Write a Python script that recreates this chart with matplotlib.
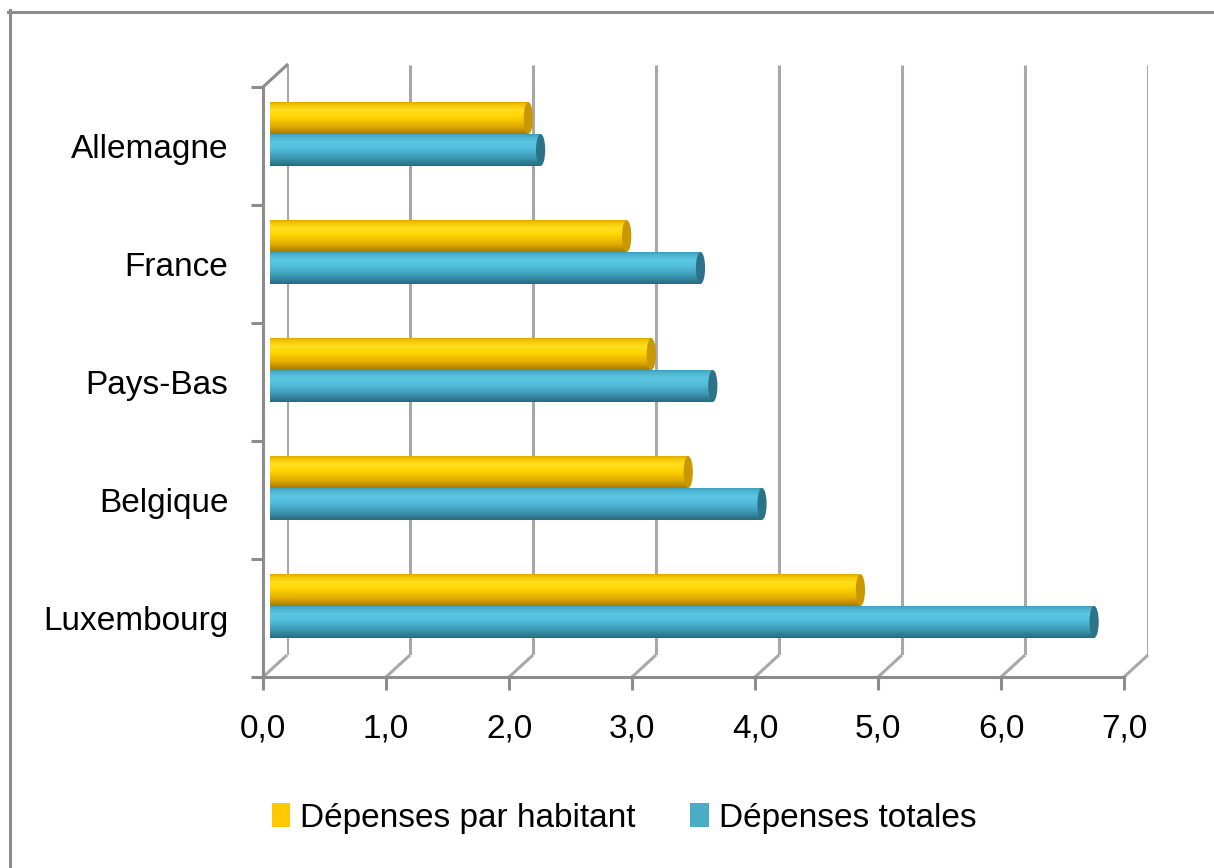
import matplotlib
matplotlib.use('Agg')
import matplotlib.pyplot as plt
import numpy as np
from matplotlib.colors import LinearSegmentedColormap
from matplotlib.patches import Ellipse, Patch
from matplotlib.lines import Line2D

plt.rcParams.update({
    'font.family': ['Liberation Sans', 'DejaVu Sans'],
    'font.size': 24,
})

countries = ['Luxembourg', 'Belgique', 'Pays-Bas', 'France', 'Allemagne']
par_habitant = [4.8, 3.4, 3.1, 2.9, 2.1]
totales = [6.7, 4.0, 3.6, 3.5, 2.2]
x_ticks = [0, 1, 2, 3, 4, 5, 6, 7]
series_names = ['Dépenses par habitant', 'Dépenses totales']

W, H = 1214, 868
GRID = '#a8a8a8'
AXIS = '#8c8c8c'


def frac(left, top, right, bottom):
    return [left / W, 1 - bottom / H, (right - left) / W, (bottom - top) / H]


fig = plt.figure(figsize=(W / 100, H / 100), dpi=100)
fig.patch.set_facecolor('white')

# outer frame (only top/left edges fall inside the image)
fig.add_artist(Line2D([8 / W, 1], [1 - 11.5 / H, 1 - 11.5 / H], color=AXIS, lw=2.2))
fig.add_artist(Line2D([9.5 / W, 9.5 / W], [0, 1 - 10 / H], color=AXIS, lw=2.2))

xlim = (0, 7)
ylim = (-0.5, len(countries) - 0.5)

# back wall with the vertical gridlines
ax_back = fig.add_axes(frac(287, 65, 1148, 655))
ax_back.set_xlim(*xlim)
ax_back.set_ylim(*ylim)
ax_back.axis('off')
ax_back.vlines(x_ticks, *ylim, color=GRID, lw=2.2)

# front plane: axes, ticks, labels, floor diagonals
ax = fig.add_axes(frac(263, 87, 1124, 677))
ax.set_xlim(*xlim)
ax.set_ylim(*ylim)
ax.patch.set_alpha(0)
for s in ['top', 'right']:
    ax.spines[s].set_visible(False)
for s in ['left', 'bottom']:
    ax.spines[s].set_color(AXIS)
    ax.spines[s].set_linewidth(2.2)
ax.set_xticks(x_ticks)
ax.set_xticklabels([f'{v:.1f}'.replace('.', ',') for v in x_ticks])
ax.set_yticks(np.arange(-0.5, len(countries), 1.0))
ax.set_yticklabels([])
ax.set_yticks(range(len(countries)), minor=True)
ax.set_yticklabels(countries, minor=True)
ax.tick_params(axis='both', which='major', direction='out', length=9,
               width=2.2, color=AXIS, labelsize=24)
ax.tick_params(axis='x', pad=17)
ax.tick_params(axis='y', which='minor', length=0, pad=25, labelsize=24)

# depth offset between front and back planes, in front data units
dx = 24 / 861 * (xlim[1] - xlim[0])
dy = 22 / 590 * (ylim[1] - ylim[0])
for xv in x_ticks:
    ax.plot([xv, xv + dx], [ylim[0], ylim[0] + dy], color=GRID, lw=2.2,
            clip_on=False, solid_capstyle='butt')
ax.plot([0, dx], [ylim[1], ylim[1] + dy], color=AXIS, lw=2.2, clip_on=False)

# bar plane, sitting a little behind the front plane
ax_bar = fig.add_axes(frac(270, 75, 1131, 665))
ax_bar.set_xlim(*xlim)
ax_bar.set_ylim(*ylim)
ax_bar.axis('off')
ax_bar.patch.set_alpha(0)

cmap_yellow = LinearSegmentedColormap.from_list(
    'cyl_y', [(0, '#a87c00'), (0.25, '#e3ad00'), (0.55, '#ffd600'),
              (0.75, '#ffde22'), (0.92, '#f5c600'), (1, '#dcab00')])
cmap_blue = LinearSegmentedColormap.from_list(
    'cyl_b', [(0, '#266a7e'), (0.25, '#3d98b3'), (0.55, '#52bedc'),
              (0.75, '#5cc6e2'), (0.92, '#4cb4d2'), (1, '#3f9fbb')])
grad = np.linspace(0, 1, 64).reshape(-1, 1)

bar_h = 0.27
y = np.arange(len(countries))
series = [
    (par_habitant, y + bar_h / 2, cmap_yellow, '#c99800', '#ffc800'),
    (totales, y - bar_h / 2, cmap_blue, '#2c7388', '#4aacc5'),
]
for values, ypos, cmap, cap_color, _ in series:
    bars = ax_bar.barh(ypos, values, height=bar_h, color='none', lw=0, zorder=2)
    for rect, v, yc in zip(bars, values, ypos):
        im = ax_bar.imshow(grad, extent=[0, v, yc - bar_h / 2, yc + bar_h / 2],
                           origin='lower', aspect='auto', cmap=cmap,
                           interpolation='bicubic', zorder=2)
        im.set_clip_path(rect)
        ax_bar.add_patch(Ellipse((v, yc), 0.075, bar_h, facecolor=cap_color,
                                 edgecolor='none', zorder=3))
        ax_bar.add_patch(Ellipse((0, yc), 0.05, bar_h, facecolor=cmap(0.6),
                                 edgecolor='none', zorder=1.9))
ax_bar.set_xlim(*xlim)
ax_bar.set_ylim(*ylim)

handles = [Patch(facecolor=s[4], edgecolor='none') for s in series]
fig.legend(handles, series_names, loc='center', ncol=2, frameon=False,
           bbox_to_anchor=(624 / W, 1 - 818 / H), fontsize=24,
           handlelength=0.55, handleheight=0.72, handletextpad=0.3,
           columnspacing=1.64)

fig.savefig('out.png', dpi=100)
